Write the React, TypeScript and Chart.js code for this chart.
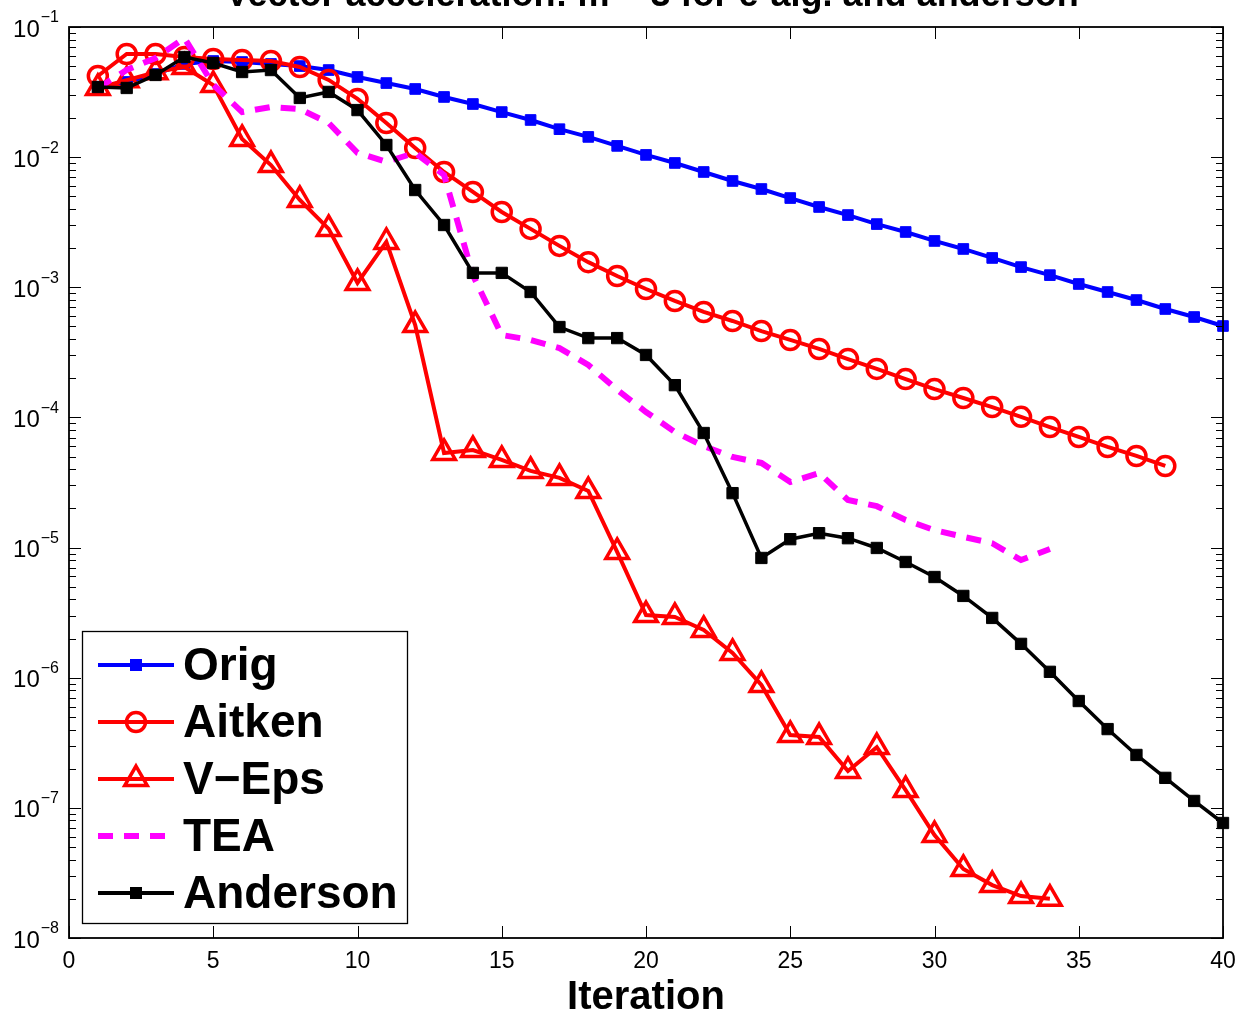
import React, { useEffect, useRef } from 'react';
import { Chart, registerables } from 'chart.js';

Chart.register(...registerables);

const TITLE = 'Vector acceleration: m = 3 for e-alg. and anderson';
const X_LABEL = 'Iteration';
const X_TICKS = [0, 5, 10, 15, 20, 25, 30, 35, 40];
const Y_TICK_EXPONENTS = [-1, -2, -3, -4, -5, -6, -7, -8];
const SERIES_NAMES = ['Orig', 'Aitken', 'V\u2212Eps', 'TEA', 'Anderson'];

const ITER_40 = [1, 2, 3, 4, 5, 6, 7, 8, 9, 10, 11, 12, 13, 14, 15, 16, 17, 18, 19, 20, 21, 22, 23, 24, 25, 26, 27, 28, 29, 30, 31, 32, 33, 34, 35, 36, 37, 38, 39, 40];

const ORIG = [0.0346, 0.0378, 0.0435, 0.052, 0.0548, 0.0538, 0.052, 0.0501, 0.0467, 0.0413, 0.0371, 0.0334, 0.029, 0.0256, 0.0222, 0.0193, 0.0164, 0.0143, 0.0122, 0.0104, 0.00902, 0.00769, 0.00656, 0.00569, 0.00485, 0.00414, 0.00359, 0.00306, 0.00266, 0.00227, 0.00197, 0.00168, 0.00143, 0.00124, 0.00106, 0.00092, 0.000798, 0.000681, 0.000591, 0.000504];

const AITKEN = [0.042, 0.062, 0.062, 0.0588, 0.0568, 0.0558, 0.0548, 0.0493, 0.0392, 0.028, 0.0183, 0.01175, 0.00769, 0.0054, 0.00379, 0.00281, 0.00208, 0.00156, 0.00122, 0.00097, 0.000785, 0.000646, 0.000551, 0.000461, 0.000394, 0.000336, 0.000281, 0.000236, 0.000197, 0.000165, 0.000141, 0.00012, 0.000101, 0.0000844, 0.0000708, 0.0000593, 0.0000506, 0.0000424];

const VEPS = [0.034, 0.039, 0.045, 0.0493, 0.0358, 0.0138, 0.0087, 0.00469, 0.00281, 0.00108, 0.00223, 0.000513, 0.0000533, 0.0000562, 0.0000471, 0.0000388, 0.0000343, 0.0000272, 0.00000925, 0.00000303, 0.00000293, 0.00000233, 0.00000155, 0.000000879, 0.000000363, 0.00000035, 0.000000192, 0.000000293, 0.000000137, 0.0000000618, 0.0000000339, 0.0000000255, 0.000000021, 0.00000002];

const TEA = [0.034, 0.0467, 0.0578, 0.0823, 0.036, 0.0222, 0.0243, 0.0234, 0.0183, 0.0108, 0.0092, 0.0108, 0.0073, 0.00124, 0.00043, 0.000394, 0.000341, 0.000253, 0.000163, 0.00011, 0.0000773, 0.0000603, 0.0000497, 0.0000447, 0.0000319, 0.0000374, 0.0000232, 0.0000208, 0.0000163, 0.0000136, 0.0000121, 0.0000108, 0.00000802, 0.00000975];

const ANDERSON = [0.0346, 0.034, 0.0428, 0.0588, 0.0529, 0.0451, 0.0467, 0.0285, 0.0317, 0.023, 0.0124, 0.00559, 0.00301, 0.00129, 0.00129, 0.00092, 0.000495, 0.000407, 0.000407, 0.000302, 0.000177, 0.0000759, 0.0000262, 0.00000832, 0.0000116, 0.0000129, 0.0000118, 0.00000993, 0.00000775, 0.00000594, 0.00000425, 0.00000288, 0.00000182, 0.00000111, 0.000000662, 0.000000403, 0.000000255, 0.00000017, 0.000000113, 0.0000000765];

const FONT = "'Liberation Sans', Arial, Helvetica, sans-serif";
const BLUE = '#0000ff';
const RED = '#ff0000';
const MAGENTA = '#ff00ff';
const BLACK = '#000000';

const LINE_W = 4;
const CIRCLE_R = 9.5;
const TRI_R = 13;
const MARK_STROKE = 3.5;

const toPoints = (vals: number[]) => vals.map((v, i) => ({ x: ITER_40[i], y: v }));

function drawMarker(ctx: CanvasRenderingContext2D, kind: string, cx: number, cy: number, color: string) {
  ctx.save();
  if (kind === 'rect') {
    ctx.fillStyle = color;
    ctx.fillRect(cx - 6, cy - 6, 12, 12);
  } else if (kind === 'circle') {
    ctx.strokeStyle = color;
    ctx.lineWidth = MARK_STROKE;
    ctx.beginPath();
    ctx.arc(cx, cy, CIRCLE_R, 0, Math.PI * 2);
    ctx.stroke();
  } else if (kind === 'triangle') {
    ctx.strokeStyle = color;
    ctx.lineWidth = MARK_STROKE;
    ctx.beginPath();
    for (let k = 0; k < 3; k++) {
      const a = (k * 2 * Math.PI) / 3;
      const px = cx + Math.sin(a) * TRI_R;
      const py = cy - Math.cos(a) * TRI_R;
      if (k === 0) ctx.moveTo(px, py);
      else ctx.lineTo(px, py);
    }
    ctx.closePath();
    ctx.stroke();
  }
  ctx.restore();
}

const decorPlugin = {
  id: 'matlabDecor',
  afterDatasetsDraw(chart: any) {
    const { ctx, chartArea, scales } = chart;
    const { left, right, top, bottom } = chartArea;
    const xs = scales.x;
    const ys = scales.y;
    ctx.save();
    ctx.strokeStyle = '#000';
    ctx.lineWidth = 1;
    const seg = (x1: number, y1: number, x2: number, y2: number) => {
      ctx.beginPath();
      ctx.moveTo(x1, y1);
      ctx.lineTo(x2, y2);
      ctx.stroke();
    };
    for (const v of X_TICKS) {
      const px = Math.round(xs.getPixelForValue(v)) + 0.5;
      seg(px, bottom, px, bottom - 12);
      seg(px, top, px, top + 12);
    }
    for (const e of Y_TICK_EXPONENTS) {
      for (let m = 1; m <= 9; m++) {
        const val = m * Math.pow(10, e);
        if (val > 0.1000001) break;
        const py = Math.round(ys.getPixelForValue(val)) + 0.5;
        const len = m === 1 ? 12 : 7;
        seg(left, py, left + len, py);
        seg(right, py, right - len, py);
      }
    }
    ctx.lineWidth = 1.8;
    ctx.strokeRect(left, top, right - left, bottom - top);

    ctx.fillStyle = '#000';
    ctx.font = `23px ${FONT}`;
    ctx.textAlign = 'center';
    ctx.textBaseline = 'middle';
    for (const v of X_TICKS) {
      ctx.fillText(String(v), xs.getPixelForValue(v), 962);
    }
    for (const e of Y_TICK_EXPONENTS) {
      const py = ys.getPixelForValue(Math.pow(10, e));
      const sup = '\u2212' + String(-e);
      ctx.font = `16px ${FONT}`;
      ctx.textAlign = 'right';
      ctx.textBaseline = 'middle';
      const supW = ctx.measureText(sup).width;
      ctx.fillText(sup, 59, py - 9);
      ctx.font = `24px ${FONT}`;
      ctx.fillText('10', 59 - supW - 1, py + 3);
    }

    ctx.font = `bold 40px ${FONT}`;
    ctx.textAlign = 'center';
    ctx.textBaseline = 'middle';
    ctx.fillText(X_LABEL, (left + right) / 2, 998);

    ctx.font = `bold 36px ${FONT}`;
    ctx.textBaseline = 'alphabetic';
    ctx.fillText(TITLE, 652, 6);

    const bx = 82, by = 631, bw = 325, bh = 292;
    ctx.fillStyle = '#fff';
    ctx.fillRect(bx, by, bw, bh);
    ctx.lineWidth = 1.3;
    ctx.strokeStyle = '#000';
    ctx.strokeRect(bx + 0.5, by + 0.5, bw, bh);
    const styles = [
      { color: BLUE, marker: 'rect', dash: [] as number[], width: LINE_W },
      { color: RED, marker: 'circle', dash: [] as number[], width: LINE_W },
      { color: RED, marker: 'triangle', dash: [] as number[], width: LINE_W },
      { color: MAGENTA, marker: 'none', dash: [15, 11], width: 6 },
      { color: BLACK, marker: 'rect', dash: [] as number[], width: LINE_W },
    ];
    SERIES_NAMES.forEach((name, i) => {
      const cy = 665 + i * 57;
      const st = styles[i];
      ctx.save();
      ctx.strokeStyle = st.color;
      ctx.lineWidth = st.width;
      ctx.setLineDash(st.dash);
      ctx.beginPath();
      ctx.moveTo(98, cy);
      ctx.lineTo(174, cy);
      ctx.stroke();
      ctx.restore();
      if (st.marker !== 'none') drawMarker(ctx, st.marker, 136, cy, st.color);
      ctx.fillStyle = '#000';
      ctx.font = `bold 46px ${FONT}`;
      ctx.textAlign = 'left';
      ctx.textBaseline = 'middle';
      ctx.fillText(name, 183, cy + 2);
    });
    ctx.restore();
  },
};

export default function App() {
  const canvasRef = useRef<HTMLCanvasElement | null>(null);

  useEffect(() => {
    const canvas = canvasRef.current;
    if (!canvas) return;
    const chart = new Chart(canvas, {
      type: 'line',
      data: {
        datasets: [
          {
            label: SERIES_NAMES[0],
            data: toPoints(ORIG),
            borderColor: BLUE,
            borderWidth: LINE_W,
            pointStyle: 'rect',
            pointRadius: 7.5,
            pointBackgroundColor: BLUE,
            pointBorderColor: BLUE,
            pointBorderWidth: 1,
            tension: 0,
            clip: false,
            order: 5,
          },
          {
            label: SERIES_NAMES[1],
            data: toPoints(AITKEN),
            borderColor: RED,
            borderWidth: LINE_W,
            pointStyle: 'circle',
            pointRadius: CIRCLE_R,
            pointBackgroundColor: 'rgba(0,0,0,0)',
            pointBorderColor: RED,
            pointBorderWidth: MARK_STROKE,
            tension: 0,
            clip: false,
            order: 4,
          },
          {
            label: SERIES_NAMES[2],
            data: toPoints(VEPS),
            borderColor: RED,
            borderWidth: LINE_W,
            pointStyle: 'triangle',
            pointRadius: TRI_R,
            pointBackgroundColor: 'rgba(0,0,0,0)',
            pointBorderColor: RED,
            pointBorderWidth: MARK_STROKE,
            tension: 0,
            clip: false,
            order: 3,
          },
          {
            label: SERIES_NAMES[3],
            data: toPoints(TEA),
            borderColor: MAGENTA,
            borderWidth: 6,
            borderDash: [15, 11],
            pointRadius: 0,
            tension: 0,
            clip: false,
            order: 2,
          },
          {
            label: SERIES_NAMES[4],
            data: toPoints(ANDERSON),
            borderColor: BLACK,
            borderWidth: 3.5,
            pointStyle: 'rect',
            pointRadius: 8,
            pointBackgroundColor: BLACK,
            pointBorderColor: BLACK,
            pointBorderWidth: 1,
            tension: 0,
            clip: false,
            order: 1,
          },
        ],
      },
      options: {
        responsive: false,
        animation: false,
        devicePixelRatio: 1,
        events: [],
        layout: { padding: { left: 69, right: 22, top: 27, bottom: 83 } },
        plugins: {
          legend: { display: false },
          title: { display: false },
          tooltip: { enabled: false },
        },
        scales: {
          x: { type: 'linear', min: 0, max: 40, display: false },
          y: { type: 'logarithmic', min: 1e-8, max: 1e-1, display: false },
        },
      },
      plugins: [decorPlugin],
    } as any);
    return () => chart.destroy();
  }, []);

  return (
    <div style={{ position: 'absolute', left: 0, top: 0, width: 1245, height: 1021, overflow: 'hidden', background: '#fff' }}>
      <canvas ref={canvasRef} width={1245} height={1021} style={{ display: 'block' }} />
    </div>
  );
}
